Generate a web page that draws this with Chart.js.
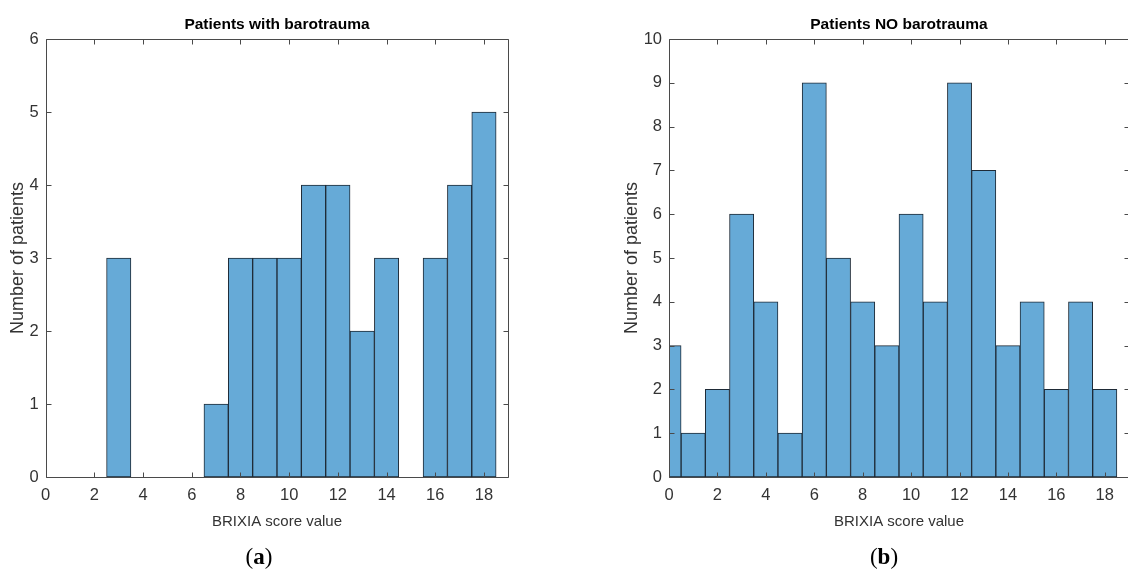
<!DOCTYPE html>
<html>
<head>
<meta charset="utf-8">
<title>BRIXIA score histograms</title>
<script src="https://cdn.jsdelivr.net/npm/chart.js@4.4.0/dist/chart.umd.min.js"></script>
<style>
  html, body { margin: 0; padding: 0; background: #fff; overflow: hidden; }
  body { width: 1128px; height: 572px; position: relative; }
  canvas { position: absolute; top: 0; }
  #chartA { left: 0; }
  #chartB { left: 564px; }
  .cap {
    position: absolute; top: 543px; transform: translateX(-50%);
    font-family: "Liberation Serif", "DejaVu Serif", serif; font-size: 23px;
    line-height: 28px; color: #000; white-space: nowrap;
  }
</style>
</head>
<body>
<canvas id="chartA" width="564" height="572"></canvas>
<canvas id="chartB" width="600" height="572"></canvas>
<div class="cap" style="left:259px">(<b>a</b>)</div>
<div class="cap" style="left:884px">(<b>b</b>)</div>
<script>
// BRIXIA score bins (bin centres) and patient counts per bin
var scoreBins = [0, 1, 2, 3, 4, 5, 6, 7, 8, 9, 10, 11, 12, 13, 14, 15, 16, 17, 18];
var withBarotrauma = [0, 0, 0, 3, 0, 0, 0, 1, 3, 3, 3, 4, 4, 2, 3, 0, 3, 4, 5];
var noBarotrauma = [3, 1, 2, 6, 4, 1, 9, 5, 4, 3, 6, 4, 9, 7, 3, 4, 2, 4, 2];
var xTickStep = 2;
var yMaxA = 6;
var yMaxB = 10;

var barFill = "rgb(102,170,215)";
var barEdge = "#1e2a36";
var axisColor = "#4a4a4a";
var textColor = "#333333";

// MATLAB style box with inward tick marks on all four sides
var boxTicks = {
  id: 'boxTicks',
  afterDraw: function(chart) {
    var c = chart.ctx, a = chart.chartArea;
    var xs = chart.scales.x, ys = chart.scales.y;
    var len = 5;
    c.save();
    c.strokeStyle = axisColor;
    c.lineWidth = 1;
    c.beginPath();
    var l = Math.round(a.left) + 0.5, r = Math.round(a.right) + 0.5;
    var t = Math.round(a.top) + 0.5, b = Math.round(a.bottom) + 0.5;
    c.rect(l, t, r - l, b - t);
    xs.ticks.forEach(function(tk) {
      var px = Math.round(xs.getPixelForValue(tk.value)) + 0.5;
      c.moveTo(px, b); c.lineTo(px, b - len);
      c.moveTo(px, t); c.lineTo(px, t + len);
    });
    ys.ticks.forEach(function(tk) {
      var py = Math.round(ys.getPixelForValue(tk.value)) + 0.5;
      c.moveTo(l, py); c.lineTo(l + len, py);
      c.moveTo(r, py); c.lineTo(r - len, py);
    });
    c.stroke();
    c.restore();
  }
};

function histData(counts) {
  return scoreBins.map(function(v, i) { return { x: v, y: counts[i] }; });
}

function histOptions(title, yMax, yWidth, padLeft, padRight) {
  return {
    responsive: false,
    animation: false,
    layout: { padding: { left: padLeft, right: padRight, top: 0, bottom: 0 } },
    plugins: {
      legend: { display: false },
      tooltip: { enabled: false },
      title: {
        display: true,
        text: title,
        fullSize: false,
        color: '#000',
        font: { family: 'Liberation Sans', size: 15.5, weight: 'bold', lineHeight: 1.2 },
        padding: { top: 15.7, bottom: 4.7 }
      }
    },
    scales: {
      x: {
        type: 'linear',
        min: 0,
        max: 19,
        offset: false,
        grid: { display: false, drawTicks: false },
        border: { display: false },
        ticks: {
          stepSize: xTickStep,
          includeBounds: false,
          padding: 9,
          maxRotation: 0,
          color: textColor,
          font: { family: 'Liberation Sans', size: 16.5, lineHeight: 1.2 }
        },
        title: {
          display: true,
          text: 'BRIXIA score value',
          color: textColor,
          font: { family: 'Liberation Sans', size: 15, lineHeight: 1.2 },
          padding: { top: 0, bottom: 41.3 }
        },
        afterFit: function(s) { s.height = 95; }
      },
      y: {
        min: 0,
        max: yMax,
        grid: { display: false, drawTicks: false },
        border: { display: false },
        ticks: {
          stepSize: 1,
          padding: 7,
          color: textColor,
          font: { family: 'Liberation Sans', size: 16.5, lineHeight: 1.2 }
        },
        title: {
          display: true,
          text: 'Number of patients',
          color: textColor,
          font: { family: 'Liberation Sans', size: 18, lineHeight: 1.2 },
          padding: { top: 7.2, bottom: 0 }
        },
        afterFit: function(s) { s.width = yWidth; }
      }
    }
  };
}

var ctxA = document.getElementById("chartA").getContext('2d');
var chartA = new Chart(ctxA, {
  type: 'bar',
  data: {
    datasets: [{
      label: 'Patients with barotrauma',
      data: histData(withBarotrauma),
      backgroundColor: barFill,
      borderColor: barEdge,
      borderWidth: 1,
      borderSkipped: false,
      barPercentage: 1,
      categoryPercentage: 1,
      clip: 0
    }]
  },
  options: histOptions('Patients with barotrauma', yMaxA, 45.7, 0, 55.7),
  plugins: [boxTicks]
});

var ctxB = document.getElementById("chartB").getContext('2d');
var chartB = new Chart(ctxB, {
  type: 'bar',
  data: {
    datasets: [{
      label: 'Patients NO barotrauma',
      data: histData(noBarotrauma),
      backgroundColor: barFill,
      borderColor: barEdge,
      borderWidth: 1,
      borderSkipped: false,
      barPercentage: 1,
      categoryPercentage: 1,
      clip: 0
    }]
  },
  options: histOptions('Patients NO barotrauma', yMaxB, 55, 50, 35),
  plugins: [boxTicks]
});
</script>
</body>
</html>
